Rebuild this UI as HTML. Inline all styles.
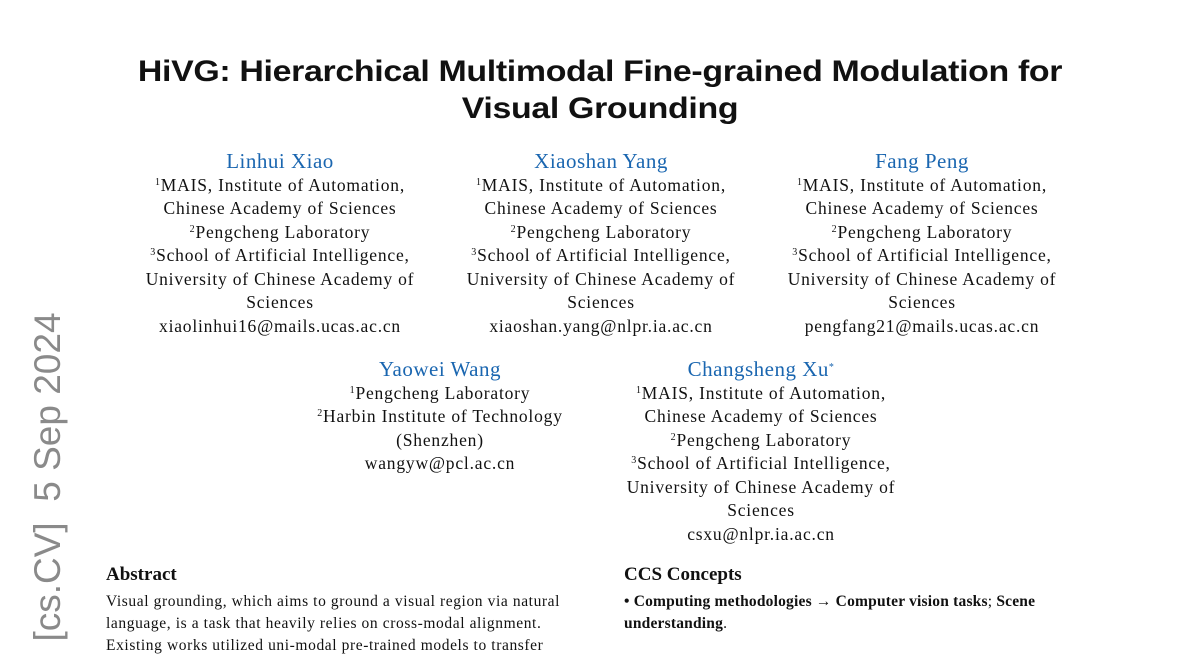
<!DOCTYPE html>
<html><head><meta charset="utf-8"><style>
body{margin:0;width:1200px;height:648px;background:#fff;overflow:hidden;position:relative;font-family:"Liberation Serif",serif;color:#111}
.t{position:absolute;left:0;width:1200px;text-align:center;font-family:"Liberation Sans",sans-serif;font-weight:bold;font-size:30px;letter-spacing:-0.3px;transform:scaleX(1.13);transform-origin:600px 0}
.col{position:absolute;width:360px;text-align:center;font-size:17.5px;line-height:23.5px;letter-spacing:0.8px;white-space:nowrap}
.col .n{color:#1a66b0;font-size:21px;letter-spacing:0.5px}
sup{font-size:10px;vertical-align:6px;line-height:0}
.v{position:absolute;left:48px;top:477px;transform:translate(-50%,-50%) rotate(-90deg);font-size:37px;color:#8a8a8a;white-space:nowrap;font-family:"Liberation Sans",sans-serif}
.h{position:absolute;font-weight:bold;font-size:19px}
.p{position:absolute;font-size:15.5px;line-height:22px;width:520px;letter-spacing:0.6px;white-space:nowrap}
</style></head><body>
<div class="t" style="top:55px">HiVG: Hierarchical Multimodal Fine-grained Modulation for</div>
<div class="t" style="top:92px">Visual Grounding</div>
<div class="v">[cs.CV]&nbsp; 5 Sep 2024</div>
<div class="col" style="left:100px;top:150px"><div class="n">Linhui Xiao</div><sup>1</sup>MAIS, Institute of Automation,<br>Chinese Academy of Sciences<br><sup>2</sup>Pengcheng Laboratory<br><sup>3</sup>School of Artificial Intelligence,<br>University of Chinese Academy of<br>Sciences<br>xiaolinhui16@mails.ucas.ac.cn</div>
<div class="col" style="left:421px;top:150px"><div class="n">Xiaoshan Yang</div><sup>1</sup>MAIS, Institute of Automation,<br>Chinese Academy of Sciences<br><sup>2</sup>Pengcheng Laboratory<br><sup>3</sup>School of Artificial Intelligence,<br>University of Chinese Academy of<br>Sciences<br>xiaoshan.yang@nlpr.ia.ac.cn</div>
<div class="col" style="left:742px;top:150px"><div class="n">Fang Peng</div><sup>1</sup>MAIS, Institute of Automation,<br>Chinese Academy of Sciences<br><sup>2</sup>Pengcheng Laboratory<br><sup>3</sup>School of Artificial Intelligence,<br>University of Chinese Academy of<br>Sciences<br>pengfang21@mails.ucas.ac.cn</div>
<div class="col" style="left:260px;top:358px"><div class="n">Yaowei Wang</div><sup>1</sup>Pengcheng Laboratory<br><sup>2</sup>Harbin Institute of Technology<br>(Shenzhen)<br>wangyw@pcl.ac.cn</div>
<div class="col" style="left:581px;top:358px"><div class="n">Changsheng Xu<sup>*</sup></div><sup>1</sup>MAIS, Institute of Automation,<br>Chinese Academy of Sciences<br><sup>2</sup>Pengcheng Laboratory<br><sup>3</sup>School of Artificial Intelligence,<br>University of Chinese Academy of<br>Sciences<br>csxu@nlpr.ia.ac.cn</div>
<div class="h" style="left:106px;top:564px">Abstract</div>
<div class="p" style="left:106px;top:591px">Visual grounding, which aims to ground a visual region via natural<br>language, is a task that heavily relies on cross-modal alignment.<br>Existing works utilized uni-modal pre-trained models to transfer</div>
<div class="h" style="left:624px;top:564px">CCS Concepts</div>
<div class="p" style="left:624px;top:591px;font-weight:bold;letter-spacing:0.2px">• Computing methodologies → Computer vision tasks<span style="font-weight:normal">;</span> Scene<br>understanding<span style="font-weight:normal">.</span></div>
</body></html>
